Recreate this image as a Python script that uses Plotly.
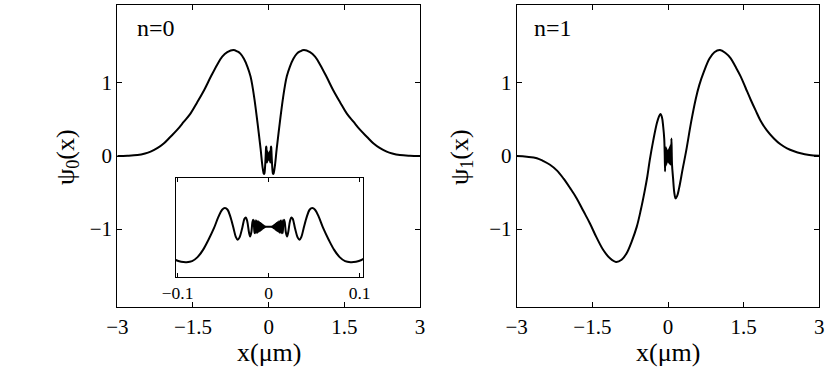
import plotly.graph_objects as go

# --- data (x in um) ---
psi0_x = [-3.0, -2.8, -2.6, -2.45, -2.34, -2.2, -2.08, -1.95, -1.81, -1.68, -1.55, -1.42, -1.28,
          -1.15, -1.02, -0.92, -0.82, -0.70, -0.62, -0.56, -0.49, -0.42, -0.36, -0.32, -0.28,
          -0.22, -0.16, -0.13, -0.115, -0.102, -0.096, -0.09, -0.084, -0.078, -0.072, -0.066,
          -0.06, -0.055, -0.051, -0.048, -0.045, -0.042, -0.0385, -0.036, -0.034, -0.032,
          -0.029, -0.0265, -0.025, -0.0235, -0.0215, -0.0203, -0.019, -0.0178, -0.017,
          -0.0162, -0.0155, -0.0148, -0.0139, -0.0130, -0.0122, -0.0114, -0.0107, -0.0100,
          -0.0093, -0.0087, -0.0081, -0.0075, -0.0069, -0.0064, -0.0059, -0.0054, -0.0049,
          -0.0044, -0.0039, -0.0030, 0.0,
          0.0030, 0.0039, 0.0044, 0.0049, 0.0054, 0.0059, 0.0064, 0.0069, 0.0075, 0.0081,
          0.0087, 0.0093, 0.0100, 0.0107, 0.0114, 0.0122, 0.0130, 0.0139, 0.0148,
          0.0155, 0.0162, 0.017, 0.0178, 0.019, 0.0203, 0.0215, 0.0235, 0.025, 0.0265,
          0.029, 0.032, 0.034, 0.036, 0.0385, 0.042, 0.045, 0.048, 0.051, 0.055, 0.06,
          0.066, 0.072, 0.078, 0.084, 0.09, 0.096, 0.102, 0.115, 0.13, 0.16, 0.22, 0.28, 0.32,
          0.36, 0.42, 0.49, 0.56, 0.62, 0.70, 0.82, 0.92, 1.02, 1.15, 1.28, 1.42, 1.55, 1.68,
          1.81, 1.95, 2.08, 2.2, 2.34, 2.45, 2.6, 2.8, 3.0]
psi0_y = [0.0, 0.004, 0.014, 0.035, 0.06, 0.11, 0.17, 0.26, 0.36, 0.47, 0.58, 0.73, 0.90,
          1.08, 1.25, 1.36, 1.42, 1.45, 1.43, 1.40, 1.33, 1.22, 1.09, 0.95, 0.77,
          0.45, 0.10, -0.10, -0.18, -0.23, -0.242, -0.245, -0.238, -0.21, -0.16, -0.09,
          -0.01, 0.07, 0.118, 0.13, 0.118, 0.07, -0.01, -0.07, -0.09, -0.075,
          -0.01, 0.055, 0.065, 0.04, -0.04, -0.067, -0.04, 0.03, 0.049,
          0.02, -0.044, 0.046, -0.045, 0.043, -0.041, 0.038, -0.035, 0.032,
          -0.029, 0.026, -0.023, 0.020, -0.017, 0.014, -0.011, 0.008, -0.006,
          0.004, -0.002, 0.0, 0.0,
          0.0, -0.002, 0.004, -0.006, 0.008, -0.011, 0.014, -0.017, 0.020, -0.023,
          0.026, -0.029, 0.032, -0.035, 0.038, -0.041, 0.043, -0.045, 0.046,
          -0.044, 0.02, 0.049, 0.03, -0.04, -0.067, -0.04, 0.04, 0.065, 0.055,
          -0.01, -0.075, -0.09, -0.07, -0.01, 0.07, 0.118, 0.13, 0.118, 0.07, -0.01,
          -0.09, -0.16, -0.21, -0.238, -0.245, -0.242, -0.23, -0.18, -0.10, 0.10, 0.45, 0.77, 0.95,
          1.09, 1.22, 1.33, 1.40, 1.43, 1.45, 1.42, 1.36, 1.25, 1.08, 0.90, 0.73, 0.58, 0.47,
          0.36, 0.26, 0.17, 0.11, 0.06, 0.035, 0.014, 0.004, 0.0]

psi1_x = [-3.0, -2.8, -2.6, -2.47, -2.34, -2.2, -2.07, -1.94, -1.81, -1.68, -1.55, -1.42, -1.28,
          -1.15, -1.03, -0.92, -0.82, -0.72, -0.62, -0.54, -0.46, -0.41, -0.36, -0.29, -0.22,
          -0.18, -0.15, -0.12, -0.095, -0.075,
          -0.066, -0.058, -0.052, -0.046, -0.040, -0.034, -0.028, -0.022, -0.016, -0.010,
          -0.004, 0.002, 0.008, 0.014, 0.020, 0.026, 0.032, 0.038, 0.044, 0.050, 0.056,
          0.062, 0.068, 0.074,
          0.08, 0.10, 0.125, 0.15, 0.18, 0.22, 0.29, 0.36, 0.46, 0.55, 0.62, 0.71, 0.82, 0.92,
          1.03, 1.14, 1.24, 1.34, 1.44, 1.54, 1.64, 1.74, 1.83, 1.96, 2.10, 2.23, 2.36, 2.5,
          2.63, 2.8, 3.0]
psi1_y = [0.0, -0.01, -0.03, -0.07, -0.12, -0.2, -0.31, -0.44, -0.58, -0.75, -0.92, -1.11, -1.29,
          -1.40, -1.45, -1.42, -1.33, -1.17, -0.97, -0.74, -0.47, -0.28, -0.05, 0.22, 0.45,
          0.54, 0.575, 0.53, 0.40, 0.24,
          0.05, -0.21, 0.08, -0.14, 0.12, -0.12, 0.10, -0.10, 0.08, -0.08,
          0.07, -0.07, 0.08, -0.09, 0.10, -0.10, 0.12, -0.11, 0.14, -0.12, 0.16,
          -0.08, 0.24, 0.05,
          -0.12, -0.30, -0.50, -0.58, -0.55, -0.44, -0.18, 0.07, 0.47, 0.78, 0.97, 1.15, 1.33, 1.42,
          1.45, 1.41, 1.34, 1.22, 1.09, 0.93, 0.77, 0.62, 0.49, 0.35, 0.24, 0.16, 0.105, 0.065,
          0.037, 0.015, 0.004]

main_ticks = [-3, -1.5, 0, 1.5, 3]
main_ticktext = ["\u22123", "\u22121.5", "0", "1.5", "3"]
y_ticks = [-1, 0, 1]
y_ticktext = ["\u22121", "0", "1"]
inset_ticks = [-0.1, 0, 0.1]
inset_ticktext = ["\u22120.1", "0", "0.1"]

W, H = 830, 371
FONT = "Liberation Serif"


def px_x(p):
    return p / W


def px_y(p):
    return 1 - p / H


fig = go.Figure()
line = dict(color="black", width=2, shape="spline", smoothing=1)
fig.add_trace(go.Scatter(x=psi0_x, y=psi0_y, mode="lines", line=line, xaxis="x", yaxis="y"))
fig.add_trace(go.Scatter(x=psi1_x, y=psi1_y, mode="lines", line=line, xaxis="x2", yaxis="y2"))
fig.add_trace(go.Scatter(x=psi0_x, y=psi0_y, mode="lines", line=line, xaxis="x3", yaxis="y3"))

frame = dict(showline=True, linecolor="black", linewidth=1, mirror="ticks", ticks="inside",
             ticklen=5, tickcolor="black", showgrid=False, zeroline=False, automargin=False,
             tickfont=dict(family=FONT, size=21, color="black"))

xa = dict(frame, range=[-3, 3], tickvals=main_ticks, ticktext=main_ticktext)
ya = dict(frame, range=[-2.07, 2.07], tickvals=y_ticks, ticktext=y_ticktext)

fig.update_layout(
    template="none",
    width=W, height=H, autosize=False,
    margin=dict(l=0, r=0, t=0, b=0, pad=0),
    paper_bgcolor="white", plot_bgcolor="white",
    showlegend=False,
    xaxis=dict(xa, domain=[px_x(117.3), px_x(420)], anchor="y"),
    yaxis=dict(ya, domain=[px_y(307.3), px_y(4.7)], anchor="x"),
    xaxis2=dict(xa, domain=[px_x(516.7), px_x(819.3)], anchor="y2"),
    yaxis2=dict(ya, domain=[px_y(307.3), px_y(4.7)], anchor="x2"),
    xaxis3=dict(frame, range=[-0.102, 0.104], tickvals=inset_ticks, ticktext=inset_ticktext,
                ticklen=4, tickfont=dict(family=FONT, size=17.5, color="black"),
                domain=[px_x(175.7), px_x(363.3)], anchor="y3"),
    yaxis3=dict(frame, range=[-0.35, 0.34], tickvals=[], showticklabels=False,
                domain=[px_y(277.3), px_y(177.7)], anchor="x3"),
)

title_font = dict(family=FONT, size=26, color="black")
ann = [
    dict(text="n=0", x=px_x(135), y=px_y(28), xanchor="left", yanchor="middle",
         font=dict(family=FONT, size=24, color="black")),
    dict(text="n=1", x=px_x(531.7), y=px_y(28), xanchor="left", yanchor="middle",
         font=dict(family=FONT, size=24, color="black")),
    dict(text="x(\u03bcm)", x=px_x(269), y=px_y(352), xanchor="center", yanchor="middle",
         font=title_font),
    dict(text="x(\u03bcm)", x=px_x(668), y=px_y(352), xanchor="center", yanchor="middle",
         font=title_font),
    dict(text="\u03c8<sub>0</sub>(x)", x=px_x(67), y=px_y(157), textangle=-90,
         xanchor="center", yanchor="middle", font=title_font),
    dict(text="\u03c8<sub>1</sub>(x)", x=px_x(461), y=px_y(157), textangle=-90,
         xanchor="center", yanchor="middle", font=title_font),
]
for a in ann:
    a.update(xref="paper", yref="paper", showarrow=False)
fig.update_layout(annotations=ann)

# the page's default body margin would push the figure 8px off the window edges
fig.write_html("out.html", config={"displayModeBar": False},
               post_script="document.body.style.margin = '0';")
